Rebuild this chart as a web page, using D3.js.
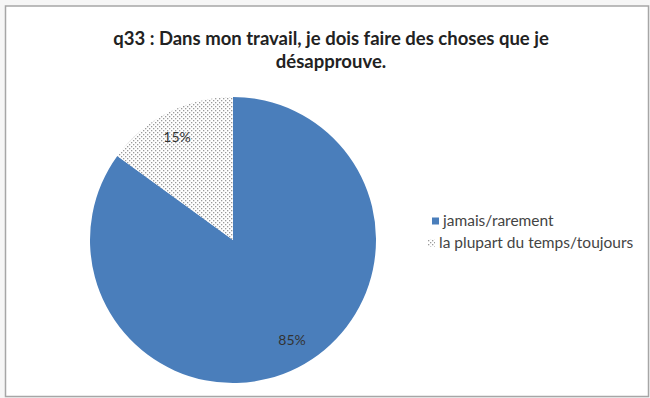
<!DOCTYPE html>
<html><head><meta charset="utf-8">
<script src="https://cdn.jsdelivr.net/npm/d3@7"></script>
<style>body{margin:0;background:#fff;} svg{display:block;}</style>
</head><body>
<svg id="chart" width="650" height="398"></svg>
<script>
const categories = ["jamais/rarement", "la plupart du temps/toujours"];
const values = [85, 15];
const labels = ["85%", "15%"];
const titleLines = ["q33 : Dans mon travail, je dois faire des choses que je", "désapprouve."];

const svg = d3.select("#chart");
const W = 650, H = 398;
svg.append("rect").attr("x",0).attr("y",0).attr("width",W).attr("height",H).attr("fill","#f6f6f6");
svg.append("rect").attr("x",5.5).attr("y",6).attr("width",643).attr("height",390.5).attr("fill","#fff").attr("stroke","#a6a6a6").attr("stroke-width",1.5);

const defs = svg.append("defs");
const pat = defs.append("pattern").attr("id","dots").attr("patternUnits","userSpaceOnUse").attr("width",4).attr("height",4);
pat.append("rect").attr("width",4).attr("height",4).attr("fill","#fff");
pat.append("rect").attr("x",0).attr("y",0).attr("width",1.3).attr("height",1.3).attr("fill","#9a9a9a");
pat.append("rect").attr("x",2).attr("y",2).attr("width",1.3).attr("height",1.3).attr("fill","#9a9a9a");

const fills = ["#4a7ebb", "url(#dots)"];

const title = svg.append("text").attr("text-anchor","middle")
  .style("font-family","Lato, 'Open Sans', sans-serif").style("font-weight","bold").style("font-size","18.5px").attr("fill","#222");
titleLines.forEach((t,i)=>title.append("tspan").attr("x",331).attr("y",45+i*23).text(t));

const cx = 233, cy = 240, r = 143;
const pie = d3.pie().sort(null).value(d=>d)(values);
const arc = d3.arc().innerRadius(0).outerRadius(r);
const g = svg.append("g").attr("transform",`translate(${cx},${cy})`);
g.selectAll("path").data(pie).join("path").attr("d",arc).attr("fill",(d,i)=>fills[i]);

const labelPos = [[59, 100], [-56, -103]];
g.selectAll("text.lbl").data(pie).join("text").attr("class","lbl")
  .attr("x",(d,i)=>labelPos[i][0]).attr("y",(d,i)=>labelPos[i][1])
  .attr("text-anchor","middle").attr("dy","0.35em")
  .style("font-family","Lato, 'Open Sans', sans-serif").style("font-size","14px").attr("fill","#333")
  .text((d,i)=>labels[i]);

const leg = svg.append("g");
const legY = [221, 243];
const legX = [432, 428];
categories.forEach((c,i)=>{
  leg.append("rect").attr("x",legX[i]).attr("y",legY[i]-3.5).attr("width",7).attr("height",7).attr("fill",fills[i]);
  leg.append("text").attr("x",legX[i]+11).attr("y",legY[i]).attr("dy","0.35em")
    .style("font-family","Lato, 'Open Sans', sans-serif").style("font-size","15.5px").attr("fill","#444").text(c);
});
</script>
</body></html>
